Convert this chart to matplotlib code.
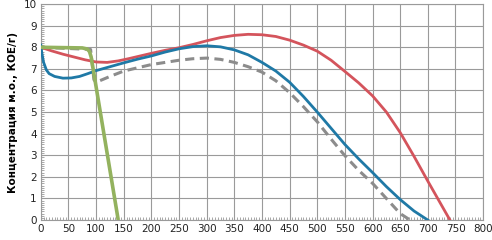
import numpy as np
import matplotlib
matplotlib.use('Agg')
import matplotlib.pyplot as plt
from matplotlib.ticker import MultipleLocator

# red curve
red_x = [0, 20, 40, 60, 80, 100, 120, 140, 160, 180, 200, 225, 250, 275, 300, 325, 350, 375,
         400, 425, 450, 475, 500, 525, 550, 575, 600, 625, 650, 675, 700, 720, 740]
red_y = [8.0, 7.83, 7.68, 7.55, 7.42, 7.32, 7.3, 7.37, 7.48, 7.6, 7.72, 7.86, 7.98, 8.13, 8.3,
         8.45, 8.55, 8.6, 8.58, 8.5, 8.33, 8.1, 7.82, 7.4, 6.88, 6.35, 5.75, 5.0, 4.05, 2.95, 1.8, 0.9, 0]

# blue curve
blue_x = [0, 2, 5, 10, 15, 25, 40, 55, 70, 85, 100, 125, 150, 175, 200, 225, 250, 275, 300, 325,
          350, 375, 400, 425, 450, 475, 500, 525, 550, 575, 600, 625, 650, 675, 700]
blue_y = [8.1, 7.7, 7.3, 6.95, 6.78, 6.65, 6.57, 6.58, 6.65, 6.78, 6.92, 7.1, 7.28, 7.45, 7.6,
          7.78, 7.93, 8.03, 8.07, 8.02, 7.88, 7.65, 7.3, 6.9, 6.38, 5.72, 5.0, 4.25, 3.5, 2.83,
          2.2, 1.55, 0.95, 0.42, 0]

# grey dashed curve
grey_x = [0, 90, 96, 100, 125, 150, 175, 200, 225, 250, 275, 300, 325, 350, 375, 400, 425, 450,
          475, 500, 525, 550, 575, 600, 625, 650, 668]
grey_y = [8.0, 7.9, 6.5, 6.38, 6.65, 6.9, 7.05, 7.2, 7.3, 7.4, 7.47, 7.5, 7.44, 7.3, 7.1, 6.85,
          6.45, 5.9, 5.25, 4.55, 3.75, 2.98, 2.3, 1.7, 1.0, 0.3, 0]

# green curve
green_x = [0, 75, 84, 88, 91, 140]
green_y = [8.0, 7.97, 7.92, 7.8, 7.55, 0]

fig = plt.figure(figsize=(4.92, 2.40), dpi=100)
ax = fig.add_axes([0.083, 0.083, 0.899, 0.9])

ax.plot(grey_x, grey_y, color='#8c8c8c', lw=2.2, linestyle=(0, (3, 1.8)), zorder=3)
ax.plot(red_x, red_y, color='#d4545c', lw=2.0, zorder=4)
ax.plot(blue_x, blue_y, color='#1f79a6', lw=2.0, zorder=5)
ax.plot(green_x, green_y, color='#93b25e', lw=2.6, zorder=6, solid_capstyle='butt')

ax.set_xlim(0, 800)
ax.set_ylim(0, 10)
ax.xaxis.set_major_locator(MultipleLocator(50))
ax.yaxis.set_major_locator(MultipleLocator(1))
ax.xaxis.set_minor_locator(MultipleLocator(5))
ax.yaxis.set_minor_locator(MultipleLocator(0.1))
ax.grid(True, which='major', color='#9a9a9a', lw=0.8)
ax.set_axisbelow(True)

for s in ax.spines.values():
    s.set_color('#9a9a9a')
    s.set_linewidth(0.8)

ax.tick_params(which='major', length=0, labelsize=7.5, colors='#222222', pad=3)
ax.tick_params(which='minor', direction='in', length=2, width=0.6, color='#9a9a9a')

ax.set_ylabel('Концентрация м.о., КОЕ/г)', fontsize=7.5, fontweight='bold', labelpad=4)

plt.savefig('out.png', dpi=100)
